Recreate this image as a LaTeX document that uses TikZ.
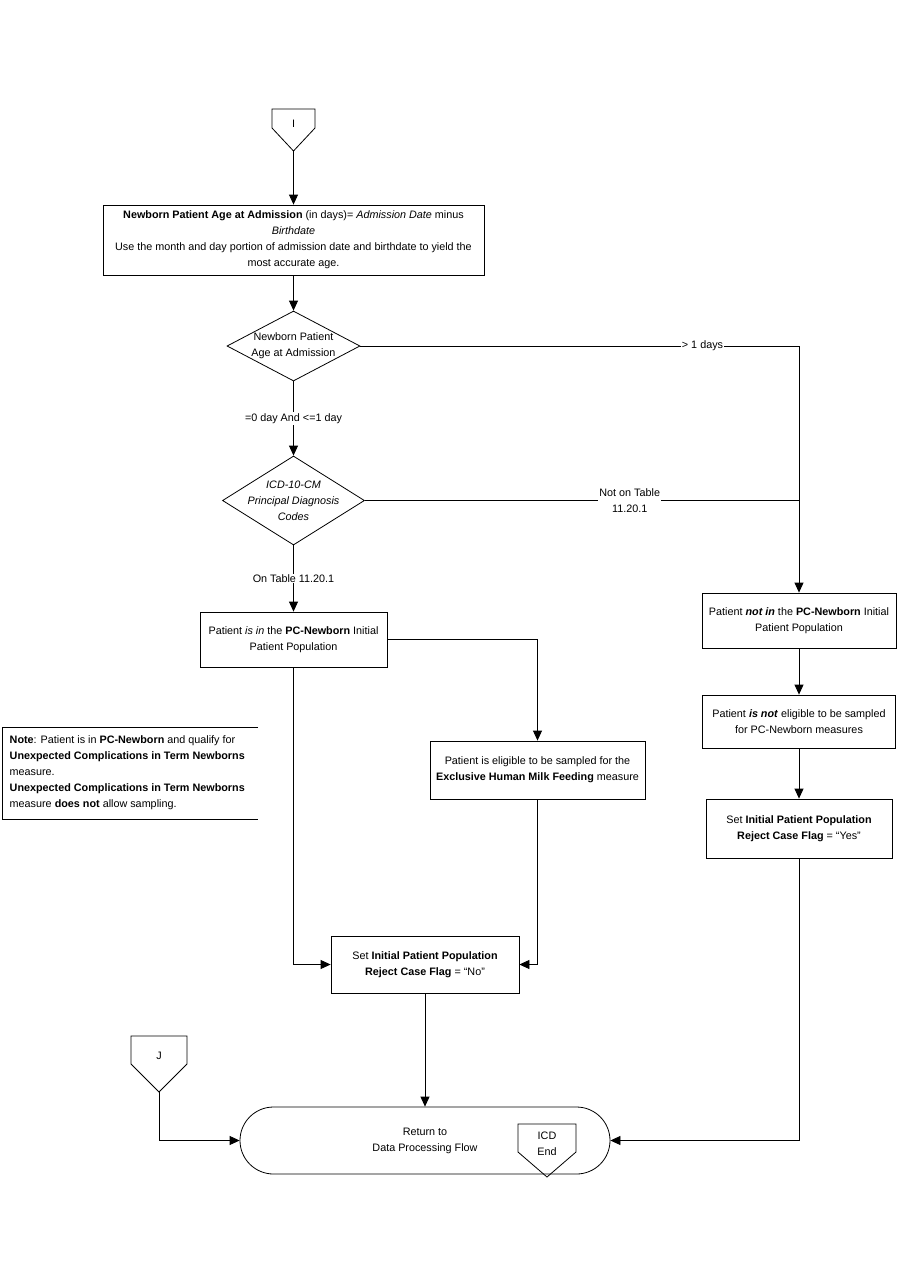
\documentclass[tikz,border=0pt]{standalone}
\usepackage{fontspec}
\setmainfont{Liberation Sans}
\usetikzlibrary{shapes.geometric,arrows.meta}

\begin{document}
\begin{tikzpicture}[x=1pt,y=-1pt,line width=0.8pt,
  every node/.style={font=\fontsize{10.8}{16}\selectfont,align=center},
  box/.style={draw,rectangle,inner sep=2pt},
  dec/.style={draw,diamond,inner sep=0pt},
  lbl/.style={fill=white,inner sep=1pt},
  arr/.style={-{Triangle[length=10pt,width=9pt]}}]
  \useasboundingbox (0,0) rectangle (900,1286);
  % off-page connector I
  \draw (272,109) -- (315,109) -- (315,128) -- (293.5,151) -- (272,128) -- cycle;
  \node (conI) at (293.5,124) {I};
  \coordinate (tipI) at (293.5,151);
  \node[box,minimum width=381,minimum height=70] (age) at (293.5,240) {\textbf{Newborn Patient Age at Admission} (in days)= \textit{Admission Date} minus\\\textit{Birthdate}\\Use the month and day portion of admission date and birthdate to yield the\\most accurate age.};
  % decisions
  \node[dec,minimum width=133,minimum height=70,label={[align=center]center:Newborn Patient\\Age at Admission}] (dage) at (293.5,346) {};
  \node[dec,minimum width=142,minimum height=89,label={[align=center,font=\fontsize{10.8}{16}\selectfont\itshape]center:ICD-10-CM\\Principal Diagnosis\\Codes}] (dicd) at (293.5,500.5) {};
  % left branch
  \node[box,minimum width=187,minimum height=55] (inpop) at (293.5,639.5) {Patient \textit{is in} the \textbf{PC-Newborn} Initial\\Patient Population};
  \node[box,minimum width=215,minimum height=58] (milk) at (537.5,770) {Patient is eligible to be sampled for the\\\textbf{Exclusive Human Milk Feeding} measure};
  \node[box,minimum width=188,minimum height=57] (setno) at (425,964.5) {Set \textbf{Initial Patient Population}\\\textbf{Reject Case Flag} = “No”};
  % right branch
  \node[box,minimum width=194,minimum height=55] (notin) at (799,620.5) {Patient \textbf{\textit{not in}} the \textbf{PC-Newborn} Initial\\Patient Population};
  \node[box,minimum width=193,minimum height=53] (noteli) at (799,721.5) {Patient \textbf{\textit{is not}} eligible to be sampled\\for PC-Newborn measures};
  \node[box,minimum width=186,minimum height=59] (setyes) at (799,828.5) {Set \textbf{Initial Patient Population}\\\textbf{Reject Case Flag} = “Yes”};
  % note
  \draw (258,727) -- (2,727) -- (2,819) -- (258,819);
  \node[anchor=west,align=left] (note) at (6,773) {\textbf{Note}: Patient is in \textbf{PC-Newborn} and qualify for\\\textbf{Unexpected Complications in Term Newborns}\\measure.\\\textbf{Unexpected Complications in Term Newborns}\\measure \textbf{does not} allow sampling.};
  % terminal
  \node[draw,rounded corners=33.5,minimum width=370,minimum height=67] (ret) at (425,1140.5) {Return to\\Data Processing Flow};
  \draw (518,1124) -- (576,1124) -- (576,1152) -- (547,1177) -- (518,1152) -- cycle;
  \node (conICD) at (547,1144) {ICD\\End};
  % off-page connector J
  \draw (131,1036) -- (187,1036) -- (187,1064) -- (159,1092) -- (131,1064) -- cycle;
  \node (conJ) at (159,1056) {J};
  \coordinate (tipJ) at (159,1092);
  % connectors
  \draw[arr] (tipI) -- (age);
  \draw[arr] (age) -- (dage);
  \draw[arr] (dage) -- node[lbl]{=0 day And <=1 day} (dicd);
  \draw[arr] (dage.east) -| node[lbl,pos=0.39]{> 1 days} (notin);
  \draw (dicd.east) -- node[lbl,pos=0.61]{Not on Table\\11.20.1} (dicd.east -| notin.north);
  \draw[arr] (dicd) -- node[lbl]{On Table 11.20.1} (inpop);
  \draw[arr] (inpop.east) -| (milk);
  \draw[arr] (inpop) |- (setno);
  \draw[arr] (milk) |- (setno);
  \draw[arr] (setno) -- (ret);
  \draw[arr] (notin) -- (noteli);
  \draw[arr] (noteli) -- (setyes);
  \draw[arr] (setyes) |- (ret);
  \draw[arr] (tipJ) |- (ret);
\end{tikzpicture}
\end{document}
